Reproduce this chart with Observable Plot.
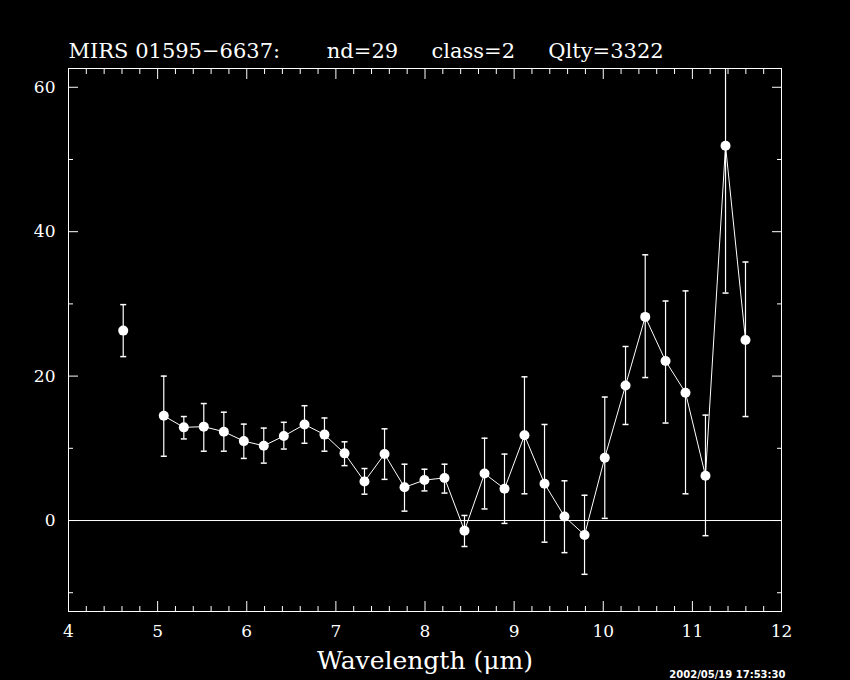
<!DOCTYPE html>
<html><head><meta charset="utf-8">
<script src="https://cdn.jsdelivr.net/npm/d3@7"></script>
<script src="https://cdn.jsdelivr.net/npm/@observablehq/plot@0.6"></script>
<style>
html,body{margin:0;padding:0;background:#000;}
#chart{width:850px;height:680px;overflow:hidden;}
</style>
</head><body><div id="chart"></div>
<script>
// wavelength (µm), flux and error-bar ends
const wavelength = [4.614, 5.069, 5.294, 5.518, 5.743, 5.967, 6.191, 6.416, 6.648, 6.872, 7.097, 7.321, 7.546, 7.770, 7.994, 8.219, 8.443, 8.668, 8.892, 9.116, 9.341, 9.565, 9.790, 10.017, 10.250, 10.471, 10.699, 10.923, 11.147, 11.372, 11.596];
const flux       = [26.3, 14.5, 12.9, 13.0, 12.3, 11.0, 10.35, 11.7, 13.3, 11.9, 9.3, 5.4, 9.2, 4.6, 5.6, 5.9, -1.4, 6.5, 4.4, 11.8, 5.1, 0.55, -2.0, 8.7, 18.7, 28.2, 22.1, 17.7, 6.2, 51.9, 25.0];
const fluxHigh   = [29.9, 20.0, 14.4, 16.2, 15.0, 13.35, 12.8, 13.6, 15.9, 14.2, 10.9, 7.2, 12.7, 7.8, 7.1, 7.8, 0.7, 11.4, 9.2, 19.9, 13.3, 5.5, 3.5, 17.1, 24.1, 36.8, 30.4, 31.8, 14.6, 72.3, 35.8];
const fluxLow    = [22.7, 8.9, 11.3, 9.6, 9.6, 8.6, 7.95, 9.9, 10.7, 9.6, 7.6, 3.65, 5.7, 1.3, 4.1, 3.8, -3.6, 1.6, -0.4, 3.7, -3.0, -4.45, -7.45, 0.3, 13.3, 19.8, 13.5, 3.7, -2.1, 31.5, 14.4];

const xMajorTicks = [4, 5, 6, 7, 8, 9, 10, 11, 12];
const xMinorTicks = d3.range(20, 61).filter(i => i % 5 !== 0).map(i => i / 5);
const yMajorTicks = [0, 20, 40, 60];
const yMinorTicks = [-10, 10, 30, 50];

const NB = "\u00a0";
const titleText = "MIRS 01595\u22126637:" + NB.repeat(7) + "nd=29" + NB.repeat(5) + "class=2" + NB.repeat(5) + "Qlty=3322";
const xLabel = "Wavelength (\u03bcm)";
const stamp = "2002/05/19 17:53:30";

const data = wavelength.map((w, i) => ({w, f: flux[i], hi: fluxHigh[i], lo: fluxLow[i]}));

const capSymbol = {draw(ctx, size) { const r = Math.sqrt(size / Math.PI); ctx.moveTo(-r, 0); ctx.lineTo(r, 0); }};

const W = "#fff";
const plot = Plot.plot({
  width: 850, height: 680,
  marginTop: 68, marginRight: 69, marginBottom: 69, marginLeft: 68,
  style: {background: "#000", color: W, fontFamily: "DejaVu Serif", fontSize: "17px", overflow: "hidden"},
  x: {domain: [4, 12]},
  y: {domain: [-12.6, 62.6]},
  marks: [
    Plot.frame({stroke: W}),
    Plot.ruleY([0], {stroke: W}),
    // inward ticks on all four sides
    Plot.axisX({ticks: xMajorTicks, anchor: "bottom", tickSize: -10, tickFormat: () => "", label: null}),
    Plot.axisX({ticks: xMinorTicks, anchor: "bottom", tickSize: -5, tickFormat: () => "", label: null}),
    Plot.axisX({ticks: xMajorTicks, anchor: "top", tickSize: -10, tickFormat: () => "", label: null}),
    Plot.axisX({ticks: xMinorTicks, anchor: "top", tickSize: -5, tickFormat: () => "", label: null}),
    Plot.axisY({ticks: yMajorTicks, anchor: "left", tickSize: -10, tickFormat: () => "", label: null}),
    Plot.axisY({ticks: yMinorTicks, anchor: "left", tickSize: -5, tickFormat: () => "", label: null}),
    Plot.axisY({ticks: yMajorTicks, anchor: "right", tickSize: -10, tickFormat: () => "", label: null}),
    Plot.axisY({ticks: yMinorTicks, anchor: "right", tickSize: -5, tickFormat: () => "", label: null}),
    // tick labels
    Plot.axisX({ticks: xMajorTicks, anchor: "bottom", tickSize: 0, tickPadding: 13, tickFormat: d => String(d), label: null}),
    Plot.axisY({ticks: yMajorTicks, anchor: "left", tickSize: 0, tickPadding: 13, tickFormat: d => String(d), label: null}),
    // error bars
    Plot.ruleX(data, {x: "w", y1: "lo", y2: "hi", stroke: W, strokeWidth: 1.2, clip: true}),
    Plot.dot(data, {x: "w", y: "hi", symbol: capSymbol, r: 3, stroke: W, strokeWidth: 1.5, fill: "none", clip: true}),
    Plot.dot(data, {x: "w", y: "lo", symbol: capSymbol, r: 3, stroke: W, strokeWidth: 1.5, fill: "none", clip: true}),
    // connecting line (first point is not joined)
    Plot.line(data, {x: "w", y: "f", filter: (d, i) => i > 0, stroke: W, strokeWidth: 1}),
    Plot.dot(data, {x: "w", y: "f", r: 5, fill: W, stroke: "none"}),
    // texts
    Plot.text([titleText], {frameAnchor: "top-left", textAnchor: "start", lineAnchor: "bottom", dy: -11, fontSize: 21, fill: W}),
    Plot.text([xLabel], {frameAnchor: "bottom", lineAnchor: "bottom", dy: 57, fontSize: 25, fill: W}),
    Plot.text([stamp], {frameAnchor: "bottom-right", textAnchor: "end", lineAnchor: "bottom", dx: 4, dy: 66, fontSize: 10, fontWeight: "bold", fontFamily: "DejaVu Sans", fill: W})
  ]
});
document.getElementById("chart").append(plot);
</script>
</body></html>
